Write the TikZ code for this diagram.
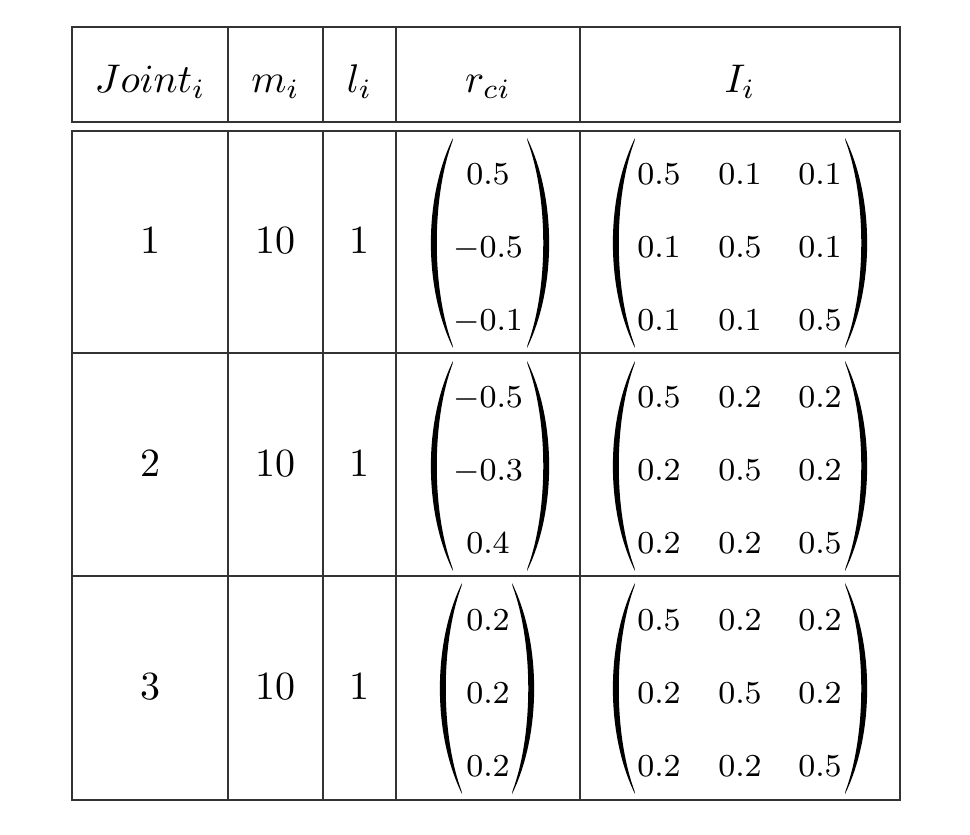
\documentclass[tikz,border=0pt]{standalone}
\usepackage{tikz}

% round brackets drawn as filled crescents: x of tips, top, bottom
\newcommand{\parleft}[3]{\fill (#1,#2) .. controls (#1-29.5,#2+60) and (#1-29.5,#3-60) .. (#1,#3) -- (#1-0.5,#3-3) .. controls (#1-21.5,#3-60) and (#1-21.5,#2+60) .. (#1-0.5,#2+3) -- cycle;}
\newcommand{\parright}[3]{\fill (#1,#2) .. controls (#1+29.5,#2+60) and (#1+29.5,#3-60) .. (#1,#3) -- (#1+0.5,#3-3) .. controls (#1+21.5,#3-60) and (#1+21.5,#2+60) .. (#1+0.5,#2+3) -- cycle;}

\tikzset{
	grid/.style={draw=black!80, line width=0.45pt},
	head/.style={anchor=base, inner sep=0pt, font=\normalsize},
	cell/.style={anchor=base, inner sep=0pt, font=\normalsize},
	entry/.style={anchor=base, inner sep=0pt, font=\footnotesize}
}

\begin{document}
\begin{tikzpicture}[x=0.25pt, y=-0.25pt]

		\useasboundingbox (0,0) rectangle (970,834);

		% header box
		\draw [grid] (72,27) rectangle (900,122);
		\draw [grid] (228,27) -- (228,122);
		\draw [grid] (323,27) -- (323,122);
		\draw [grid] (396,27) -- (396,122);
		\draw [grid] (580,27) -- (580,122);

		% body box
		\draw [grid] (72,131) rectangle (900,800);
		\draw [grid] (72,353) -- (900,353);
		\draw [grid] (72,576) -- (900,576);
		\draw [grid] (228,131) -- (228,800);
		\draw [grid] (323,131) -- (323,800);
		\draw [grid] (396,131) -- (396,800);
		\draw [grid] (580,131) -- (580,800);

		\node [head] (h1) at (150,93) {$Joint_i$};
		\node [head] (h2) at (275.5,93) {$m_i$};
		\node [head] (h3) at (359.5,93) {$l_i$};
		\node [head] (h4) at (488,93) {$r_{ci}$};
		\node [head] (h5) at (740,93) {$I_i$};

		\node [cell] (j1) at (150,253) {1};
		\node [cell] (m1) at (275.5,253) {10};
		\node [cell] (l1) at (359.5,253) {1};
		\node [cell] (j2) at (150,476) {2};
		\node [cell] (m2) at (275.5,476) {10};
		\node [cell] (l2) at (359.5,476) {1};
		\node [cell] (j3) at (150,699) {3};
		\node [cell] (m3) at (275.5,699) {10};
		\node [cell] (l3) at (359.5,699) {1};

		% r_ci
		\node [entry] (r11) at (488,184) {$0.5$};
		\node [entry] (r12) at (488,257) {$-0.5$};
		\node [entry] (r13) at (488,330) {$-0.1$};
		\node [entry] (r21) at (488,407) {$-0.5$};
		\node [entry] (r22) at (488,480) {$-0.3$};
		\node [entry] (r23) at (488,553) {$0.4$};
		\node [entry] (r31) at (488,630) {$0.2$};
		\node [entry] (r32) at (488,703) {$0.2$};
		\node [entry] (r33) at (488,776) {$0.2$};

		% I_i, joint 1
		\node [entry] (I111) at (659,184) {$0.5$};
		\node [entry] (I112) at (740,184) {$0.1$};
		\node [entry] (I113) at (820,184) {$0.1$};
		\node [entry] (I121) at (659,257) {$0.1$};
		\node [entry] (I122) at (740,257) {$0.5$};
		\node [entry] (I123) at (820,257) {$0.1$};
		\node [entry] (I131) at (659,330) {$0.1$};
		\node [entry] (I132) at (740,330) {$0.1$};
		\node [entry] (I133) at (820,330) {$0.5$};

		% I_i, joint 2
		\node [entry] (I211) at (659,407) {$0.5$};
		\node [entry] (I212) at (740,407) {$0.2$};
		\node [entry] (I213) at (820,407) {$0.2$};
		\node [entry] (I221) at (659,480) {$0.2$};
		\node [entry] (I222) at (740,480) {$0.5$};
		\node [entry] (I223) at (820,480) {$0.2$};
		\node [entry] (I231) at (659,553) {$0.2$};
		\node [entry] (I232) at (740,553) {$0.2$};
		\node [entry] (I233) at (820,553) {$0.5$};

		% I_i, joint 3
		\node [entry] (I311) at (659,630) {$0.5$};
		\node [entry] (I312) at (740,630) {$0.2$};
		\node [entry] (I313) at (820,630) {$0.2$};
		\node [entry] (I321) at (659,703) {$0.2$};
		\node [entry] (I322) at (740,703) {$0.5$};
		\node [entry] (I323) at (820,703) {$0.2$};
		\node [entry] (I331) at (659,776) {$0.2$};
		\node [entry] (I332) at (740,776) {$0.2$};
		\node [entry] (I333) at (820,776) {$0.5$};

		% brackets
		\parleft{453}{138}{348}
		\parright{527}{138}{348}
		\parleft{453}{361}{571}
		\parright{527}{361}{571}
		\parleft{462}{583}{794}
		\parright{512}{583}{794}
		\parleft{635}{138}{348}
		\parright{845}{138}{348}
		\parleft{635}{361}{571}
		\parright{845}{361}{571}
		\parleft{635}{583}{794}
		\parright{845}{583}{794}
\end{tikzpicture}
\end{document}
